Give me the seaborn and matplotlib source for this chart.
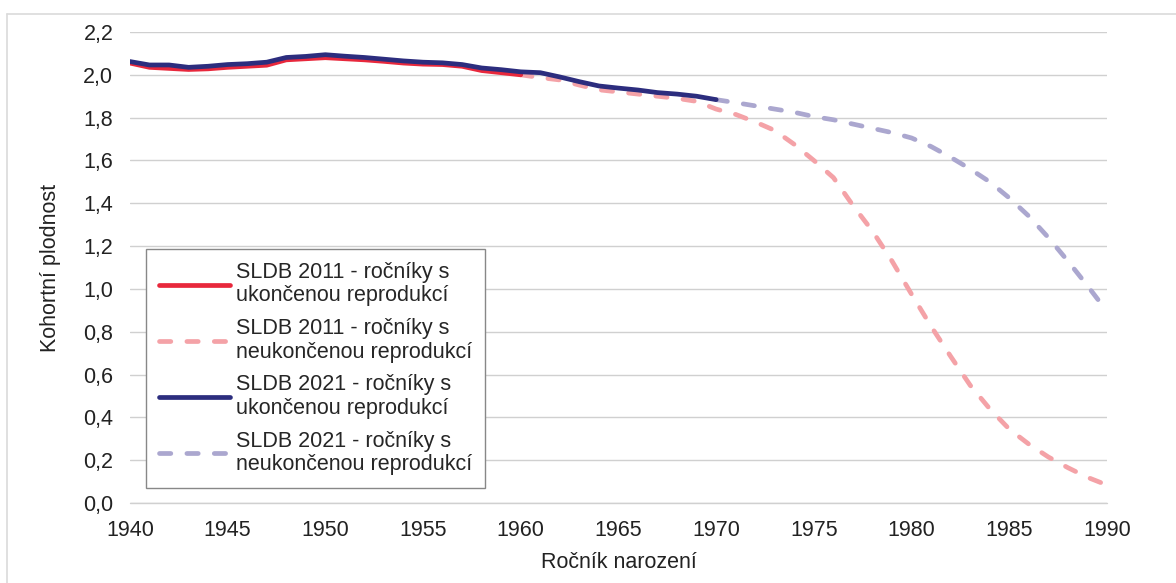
import numpy as np
import pandas as pd
import matplotlib.pyplot as plt
import seaborn as sns
from matplotlib.lines import Line2D

# data
roky_2011_uk = list(range(1940, 1961))
sldb2011_uk = [2.055, 2.035, 2.03, 2.025, 2.028, 2.035, 2.04, 2.045, 2.07, 2.075, 2.08,
               2.075, 2.07, 2.063, 2.055, 2.05, 2.048, 2.04, 2.02, 2.01, 2.0]

roky_2011_neuk = list(range(1960, 1991))
sldb2011_neuk = [2.0, 1.987, 1.976, 1.952, 1.93, 1.92, 1.91, 1.90, 1.89, 1.876,
                 1.84, 1.815, 1.78, 1.74, 1.675, 1.60, 1.52, 1.39, 1.27, 1.13,
                 0.975, 0.825, 0.685, 0.55, 0.44, 0.345, 0.275, 0.215, 0.165, 0.12, 0.084]

roky_2021_uk = list(range(1940, 1971))
sldb2021_uk = [2.062, 2.046, 2.046, 2.035, 2.04, 2.048, 2.052, 2.059, 2.081, 2.086,
               2.094, 2.087, 2.081, 2.073, 2.065, 2.059, 2.056, 2.048, 2.032, 2.024,
               2.014, 2.01, 1.99, 1.968, 1.948, 1.938, 1.929, 1.917, 1.91, 1.90, 1.884]

roky_2021_neuk = list(range(1970, 1991))
sldb2021_neuk = [1.884, 1.87, 1.855, 1.84, 1.825, 1.805, 1.79, 1.77, 1.75, 1.73,
                 1.705, 1.665, 1.615, 1.56, 1.50, 1.425, 1.34, 1.24, 1.13, 1.015, 0.895]

popisky = ["SLDB 2011 - ročníky s\nukončenou reprodukcí",
           "SLDB 2011 - ročníky s\nneukončenou reprodukcí",
           "SLDB 2021 - ročníky s\nukončenou reprodukcí",
           "SLDB 2021 - ročníky s\nneukončenou reprodukcí"]

yticks = np.arange(0, 2.21, 0.2)
xticks = list(range(1940, 1991, 5))

sns.set_style("white")
plt.rcParams['font.family'] = ['Liberation Sans', 'DejaVu Sans']
plt.rcParams['font.size'] = 15.5

fig = plt.figure(figsize=(11.76, 5.83), dpi=100)
ax = fig.add_axes([0.1105, 0.1372, 0.8308, 0.8079])

c_red = "#E8283C"
c_pink = "#F4A2A7"
c_navy = "#2C2D7E"
c_lav = "#ABA7CF"
lw = 3.4
dash = (2.4, 3.4)

sns.lineplot(x=roky_2011_neuk, y=sldb2011_neuk, ax=ax, color=c_pink, lw=lw,
             linestyle=(0, dash))
sns.lineplot(x=roky_2021_neuk, y=sldb2021_neuk, ax=ax, color=c_lav, lw=lw,
             linestyle=(0, dash))
sns.lineplot(x=roky_2011_uk, y=sldb2011_uk, ax=ax, color=c_red, lw=lw)
sns.lineplot(x=roky_2021_uk, y=sldb2021_uk, ax=ax, color=c_navy, lw=lw)

for l in ax.get_lines():
    l.set_dash_capstyle("round")

ax.set_xlim(1940, 1990)
ax.set_ylim(0, 2.2)
ax.set_xticks(xticks)
ax.set_yticks(yticks)
ax.set_yticklabels([f"{v:.1f}".replace(".", ",") for v in yticks])
ax.yaxis.grid(True, color="#D0D0D0", lw=1)
ax.axhline(0, color="#D0D0D0", lw=1, clip_on=False, zorder=0)
ax.set_axisbelow(True)
for s in ax.spines.values():
    s.set_visible(False)
ax.tick_params(axis="y", pad=12, length=0, colors="#222222")
ax.tick_params(axis="x", pad=12, length=0, colors="#222222")
ax.set_ylabel("Kohortní plodnost", labelpad=16, color="#222222")
ax.set_xlabel("Ročník narození", labelpad=8, color="#222222")

handles = [Line2D([], [], color=c_red, lw=lw),
           Line2D([], [], color=c_pink, lw=lw, linestyle=(0, dash), dash_capstyle="round"),
           Line2D([], [], color=c_navy, lw=lw),
           Line2D([], [], color=c_lav, lw=lw, linestyle=(0, dash), dash_capstyle="round")]
leg = ax.legend(handles, popisky, loc="lower left", bbox_to_anchor=(0.0164, 0.0318),
                borderaxespad=0, fancybox=False, framealpha=1, edgecolor="#888888",
                handlelength=3.3, handletextpad=0.3, labelspacing=0.55,
                borderpad=0.6, fontsize=15.5)
leg.get_frame().set_linewidth(1)
for t in leg.get_texts():
    t.set_linespacing(1.15)

# outer frame
fig.add_artist(Line2D([7 / 1176, 1], [1 - 13.5 / 583] * 2, color="#DADADA", lw=1.2))
fig.add_artist(Line2D([7 / 1176] * 2, [0, 1 - 13.5 / 583], color="#DADADA", lw=1.2))

fig.savefig("out.png", dpi=100)
